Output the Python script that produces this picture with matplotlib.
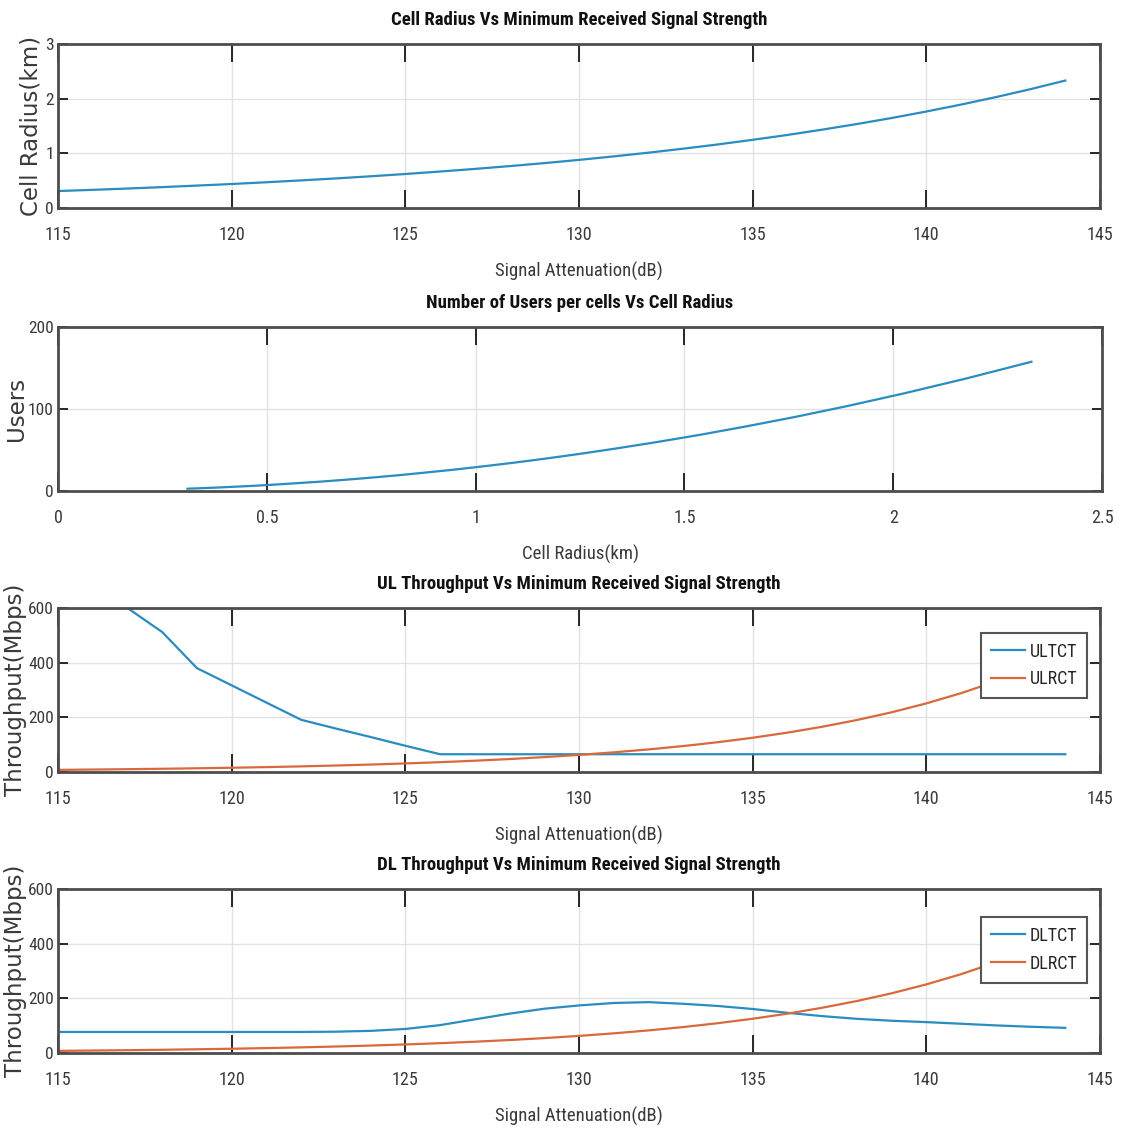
"""MATLAB-style 4-panel LTE link budget figure (cell radius, users, UL/DL throughput)."""
import matplotlib
matplotlib.use("Agg")
import matplotlib.pyplot as plt
from matplotlib import font_manager

# ── fonts ─────────────────────────────────────────────────────────────────────
_AVAIL = {f.name for f in font_manager.fontManager.ttflist}
NARROW = next((f for f in ["Liberation Sans Narrow", "Roboto Condensed", "Liberation Sans"]
               if f in _AVAIL), "DejaVu Sans")

plt.rcParams.update({
    "font.family": [NARROW, "DejaVu Sans"],
    "axes.edgecolor": "#4d4d4d",
    "axes.linewidth": 2.0,
    "xtick.color": "#262626", "ytick.color": "#262626",
    "xtick.labelcolor": "#3a3a3a", "ytick.labelcolor": "#3a3a3a",
})

# ── data ─────────────────────────────────────────────────────────────────────
atten_db = list(range(115, 145))  # 115 .. 144 dB

cell_radius_km = [0.310, 0.332, 0.356, 0.382, 0.410, 0.439, 0.471, 0.505, 0.541, 0.580,
                  0.622, 0.667, 0.715, 0.766, 0.821, 0.880, 0.944, 1.012, 1.085, 1.163,
                  1.247, 1.336, 1.433, 1.536, 1.646, 1.765, 1.892, 2.028, 2.174, 2.331]

users_per_cell = [2.8, 3.2, 3.7, 4.2, 4.9, 5.6, 6.4, 7.4, 8.5, 9.8,
                  11.2, 12.9, 14.8, 17.0, 19.5, 22.5, 25.8, 29.7, 34.1, 39.2,
                  45.1, 51.8, 59.6, 68.4, 78.6, 90.3, 103.8, 119.3, 137.1, 157.6]

ul_tct = [600, 600, 600, 512, 380, 317, 254, 191, 159, 128,
          96, 65, 65, 65, 65, 65, 65, 65, 65, 65,
          65, 65, 65, 65, 65, 65, 65, 65, 65, 65]

ul_rct = [7.8, 9.0, 10.3, 11.8, 13.6, 15.6, 17.9, 20.6, 23.7, 27.2,
          31.3, 35.9, 41.3, 47.4, 54.5, 62.6, 71.9, 82.6, 94.9, 109.1,
          125.3, 144.0, 165.5, 190.1, 218.4, 251.0, 288.4, 331.3, 380.7, 437.4]

dl_tct = [77, 77, 77, 77, 77, 77, 77, 77, 78, 81,
          88, 102, 123, 144, 162, 174, 183, 186, 180, 172,
          161, 147, 135, 125, 118, 113, 107, 101, 96, 92]

dl_rct = ul_rct  # identical curve in the reference

att_ticks = [115, 120, 125, 130, 135, 140, 145]
radius_ticks = [0, 0.5, 1, 1.5, 2, 2.5]
radius_ticklabels = ["0", "0.5", "1", "1.5", "2", "2.5"]

BLUE = "#2a8cc0"
ORANGE = "#d9693a"

# ── layout (pixel-measured, figure 1126 x 1129) ──────────────────────────────
W, H = 1126, 1129
fig = plt.figure(figsize=(W / 100, H / 100), dpi=100)


def make_axes(top_px, left_px=58, right_px=1100, height_px=164):
    return fig.add_axes([left_px / W, 1 - (top_px + height_px) / H,
                         (right_px - left_px) / W, height_px / H])


def style(ax, title, xlabel, ylabel, ylabel_right_px):
    ax.grid(True, color="#e2e2e2", linewidth=1.0)
    ax.set_axisbelow(True)
    ax.tick_params(axis="x", direction="in", length=13, width=1.4, top=True,
                   labelsize=13, pad=13)
    ax.tick_params(axis="y", direction="in", length=7, width=1.4, right=True,
                   labelsize=12.5, pad=3)
    ax.set_title(title, fontsize=13.5, fontweight="bold", pad=14, color="#111111")
    ax.set_xlabel(xlabel, fontsize=13.5, labelpad=13, color="#3a3a3a")
    ax.set_ylabel(ylabel, fontsize=16.5, family="DejaVu Sans", color="#3a3a3a")
    # right edge of the rotated label, in axes fraction
    ax.yaxis.set_label_coords((ylabel_right_px - 58) / 1042, 0.5)


# panel 1
ax1 = make_axes(44)
ax1.plot(atten_db, cell_radius_km, color=BLUE, linewidth=1.6)
ax1.set_xlim(115, 145)
ax1.set_ylim(0, 3)
ax1.set_xticks(att_ticks)
ax1.set_yticks([0, 1, 2, 3])
style(ax1, "Cell Radius Vs Minimum Received Signal Strength",
      "Signal Attenuation(dB)", "Cell Radius(km)", 43)

# panel 2
ax2 = make_axes(327, left_px=58, right_px=1102)
ax2.plot(cell_radius_km, users_per_cell, color=BLUE, linewidth=1.6)
ax2.set_xlim(0, 2.5)
ax2.set_ylim(0, 200)
ax2.set_xticks(radius_ticks)
ax2.set_xticklabels(radius_ticklabels)
ax2.set_yticks([0, 100, 200])
style(ax2, "Number of Users per cells Vs Cell Radius", "Cell Radius(km)", "Users", 28)

# panel 3
ax3 = make_axes(608)
ax3.plot(atten_db, ul_tct, color=BLUE, linewidth=1.6, label="ULTCT")
ax3.plot(atten_db, ul_rct, color=ORANGE, linewidth=1.6, label="ULRCT")
ax3.set_xlim(115, 145)
ax3.set_ylim(0, 600)
ax3.set_xticks(att_ticks)
ax3.set_yticks([0, 200, 400, 600])
style(ax3, "UL Throughput Vs Minimum Received Signal Strength",
      "Signal Attenuation(dB)", "Throughput(Mbps)", 27)

# panel 4
ax4 = make_axes(889)
ax4.plot(atten_db, dl_tct, color=BLUE, linewidth=1.6, label="DLTCT")
ax4.plot(atten_db, dl_rct, color=ORANGE, linewidth=1.6, label="DLRCT")
ax4.set_xlim(115, 145)
ax4.set_ylim(0, 600)
ax4.set_xticks(att_ticks)
ax4.set_yticks([0, 200, 400, 600])
style(ax4, "DL Throughput Vs Minimum Received Signal Strength",
      "Signal Attenuation(dB)", "Throughput(Mbps)", 27)

for ax, anchor in ((ax3, (0.988, 0.85)), (ax4, (0.988, 0.83))):
    leg = ax.legend(loc="upper right", bbox_to_anchor=anchor, fontsize=13,
                    fancybox=False, framealpha=1, edgecolor="#555555",
                    handlelength=1.9, handletextpad=0.25, labelspacing=0.55,
                    borderpad=0.55, borderaxespad=0)
    leg.get_frame().set_linewidth(1.5)
    for t in leg.get_texts():
        t.set_color("#262626")

fig.savefig("out.png", dpi=100)
